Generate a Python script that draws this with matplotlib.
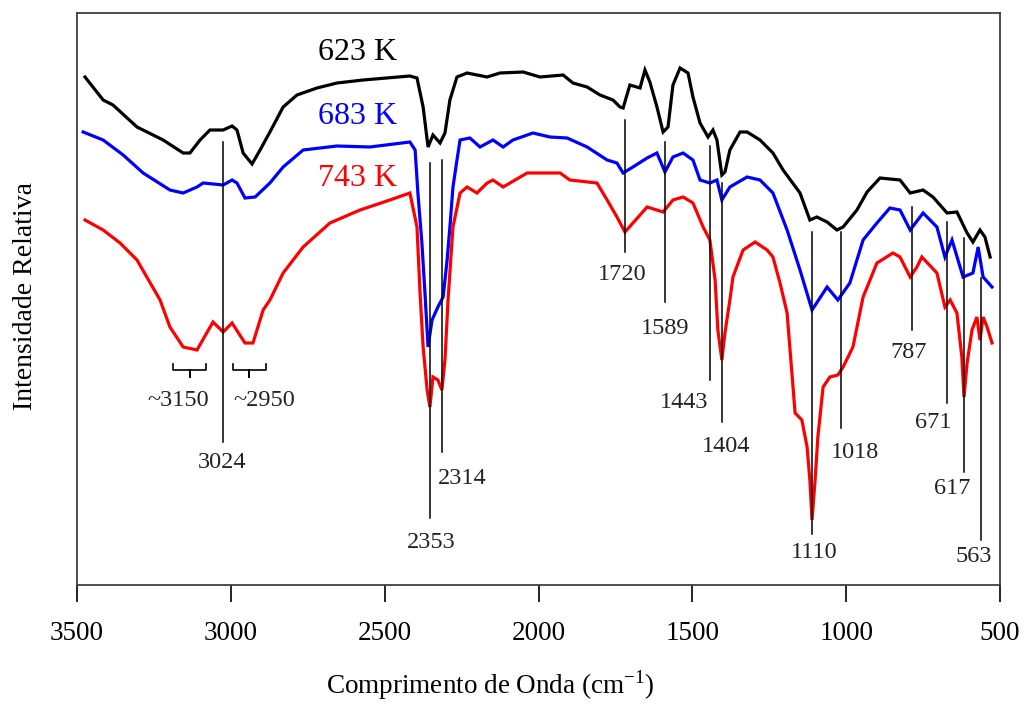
import numpy as np
import matplotlib
matplotlib.use("Agg")
import matplotlib.pyplot as plt

plt.rcParams['font.family'] = ['Liberation Serif', 'DejaVu Serif']
plt.rcParams['mathtext.fontset'] = 'custom'
plt.rcParams['mathtext.rm'] = 'Liberation Serif'

# FTIR spectra (wavenumber in cm^-1, relative intensity in arbitrary units)
wn_623 = [3474, 3415, 3383, 3305, 3220, 3155, 3133, 3100, 3068, 3025, 2996, 2980, 2960, 2931,
          2905, 2873, 2830, 2785, 2720, 2655, 2570, 2418, 2395, 2375, 2359, 2343, 2320, 2304,
          2288, 2265, 2232, 2167, 2125, 2050, 1995, 1920, 1888, 1842, 1800, 1758, 1735, 1725,
          1703, 1670, 1654, 1638, 1615, 1595, 1579, 1563, 1540, 1514, 1498, 1475, 1449, 1433,
          1420, 1404, 1394, 1378, 1345, 1322, 1280, 1238, 1205, 1150, 1118, 1095, 1062, 1030,
          1010, 965, 932, 890, 825, 792, 750, 718, 672, 640, 607, 588, 565, 549, 532]
int_623 = [508, 485, 480, 458, 445, 432, 432, 445, 455, 455, 459, 455, 432, 421,
           435, 453, 478, 490, 497, 502, 505, 509, 507, 478, 438, 450, 442, 452,
           485, 508, 512, 508, 512, 513, 508, 510, 502, 498, 490, 485, 478, 477,
           500, 497, 515, 503, 478, 453, 458, 500, 517, 512, 488, 462, 448, 455,
           445, 410, 413, 435, 453, 453, 445, 432, 415, 392, 365, 368, 363, 355,
           358, 375, 393, 407, 405, 392, 395, 388, 372, 373, 352, 343, 355, 348, 328]

wn_683 = [3480, 3415, 3350, 3285, 3198, 3155, 3110, 3090, 3025, 2996, 2980, 2954, 2921, 2873,
          2830, 2765, 2655, 2548, 2418, 2401, 2392, 2379, 2369, 2359, 2346, 2327, 2310, 2297,
          2288, 2278, 2265, 2255, 2223, 2190, 2148, 2115, 2083, 2018, 1963, 1907, 1842, 1777,
          1745, 1725, 1693, 1647, 1615, 1589, 1563, 1530, 1498, 1475, 1443, 1420, 1404, 1378,
          1322, 1280, 1238, 1192, 1150, 1111, 1062, 1027, 988, 945, 900, 858, 825, 792, 750,
          705, 679, 656, 620, 588, 571, 555, 526]
int_683 = [453, 445, 430, 412, 395, 392, 398, 402, 400, 405, 402, 387, 388, 402,
           418, 435, 439, 438, 443, 435, 392, 342, 292, 238, 265, 278, 288, 325,
           358, 398, 425, 445, 447, 438, 445, 438, 445, 452, 448, 447, 438, 425,
           422, 412, 418, 427, 432, 413, 428, 432, 425, 405, 402, 405, 385, 398,
           408, 405, 392, 355, 315, 275, 298, 285, 302, 345, 362, 377, 375, 355, 372,
           358, 328, 345, 308, 312, 338, 308, 298]

wn_743 = [3474, 3415, 3360, 3305, 3230, 3198, 3155, 3110, 3058, 3025, 2996, 2954, 2928, 2895,
          2873, 2830, 2765, 2678, 2580, 2483, 2418, 2395, 2385, 2375, 2362, 2353, 2343, 2327,
          2314, 2304, 2294, 2278, 2255, 2232, 2200, 2167, 2148, 2115, 2037, 1995, 1930, 1898,
          1810, 1777, 1745, 1719, 1693, 1647, 1595, 1563, 1530, 1498, 1465, 1443, 1426, 1417,
          1404, 1394, 1378, 1368, 1335, 1296, 1257, 1238, 1215, 1192, 1166, 1144, 1127, 1118,
          1111, 1101, 1092, 1075, 1053, 1027, 1010, 978, 945, 900, 848, 825, 792, 770, 754,
          705, 679, 662, 640, 624, 617, 607, 591, 575, 565, 555, 542, 526]
int_743 = [365, 355, 342, 325, 285, 258, 238, 235, 263, 253, 262, 242, 242, 275,
           285, 312, 338, 362, 375, 385, 392, 358, 292, 238, 195, 178, 208, 205,
           195, 225, 285, 358, 392, 398, 392, 402, 405, 398, 412, 412, 412, 405,
           402, 385, 368, 353, 362, 378, 373, 385, 388, 382, 358, 345, 305, 255,
           225, 252, 285, 308, 335, 343, 335, 328, 302, 272, 172, 165, 138, 105,
           65, 105, 148, 198, 208, 210, 218, 238, 288, 322, 332, 328, 308, 318, 328,
           312, 278, 285, 272, 228, 188, 222, 255, 268, 245, 268, 258, 242]

series_labels = ['623 K', '683 K', '743 K']
series_colors = ['black', '#0000ff', '#ff0000']

# Assigned bands: wavenumber, line bottom/top, label position
peak_labels = ['3024', '2353', '2314', '1720', '1589', '1443', '1404', '1110', '1018',
               '787', '671', '617', '563']
peak_wn = [3024, 2353, 2314, 1720, 1589, 1443, 1404, 1110, 1018, 787, 671, 617, 563]
line_top = [443, 422, 425, 465, 443, 439, 402, 353, 353, 378, 363, 347, 307]
line_bottom = [143, 67, 133, 333, 283, 205, 163, 51, 157, 255, 182, 113, 45]
label_x = [3027, 2350, 2249, 1729, 1589, 1527, 1391, 1105, 971, 796, 718, 656, 585]
label_y = [122, 43, 107, 310, 257, 182, 139, 33, 132, 233, 163, 96, 28]

fig = plt.figure(figsize=(10.25, 7.05), dpi=100)
ax = fig.add_axes([77 / 1025, 1 - 585 / 705, 923 / 1025, 572 / 705])

for wn, val, c in zip([wn_623, wn_683, wn_743], [int_623, int_683, int_743], series_colors):
    ax.plot(wn, val, color=c, lw=2.3, solid_joinstyle='miter')

# series names
for name, c, y in zip(series_labels, series_colors, [533, 468, 407]):
    ax.text(2587, y, name, color=c, fontsize=23, ha='center', va='center')

# band markers
for lab, x, y0, y1, lx, ly in zip(peak_labels, peak_wn, line_bottom, line_top, label_x, label_y):
    ax.plot([x, x], [y0, y1], color='black', lw=1.1)
    ax.text(lx, ly, lab, fontsize=17.5, ha='center', va='center', color='#222222')

# braces for the broad C-H bands
for x0, xm, x1, lab, lx in [(3188, 3133, 3081, '~3150', 3172), (2993, 2941, 2886, '~2950', 2892)]:
    ax.plot([x0, x0, xm, xm, xm, x1, x1], [221, 215, 215, 208, 215, 215, 221],
            color='black', lw=1.2)
    ax.text(lx, 185, lab, fontsize=17.5, ha='center', va='center', color='#222222')

ax.set_xlim(3500, 500)
ax.set_ylim(0, 572)
ax.set_xticks([3500, 3000, 2500, 2000, 1500, 1000, 500])
ax.set_yticks([])
ax.tick_params(axis='x', direction='out', length=12, width=1.2, labelsize=19.5, pad=14)
for s in ax.spines.values():
    s.set_color('#404040')
    s.set_linewidth(1.3)

fig.text(490 / 1025, 1 - 685 / 705, 'Comprimento de Onda (cm$^{\\mathrm{-1}}$)', fontsize=19.5,
         ha='center', va='center')
fig.text(26 / 1025, 1 - 296 / 705, 'Intensidade Relativa', fontsize=20,
         ha='center', va='center', rotation=90)

fig.savefig('out.png', dpi=100)
